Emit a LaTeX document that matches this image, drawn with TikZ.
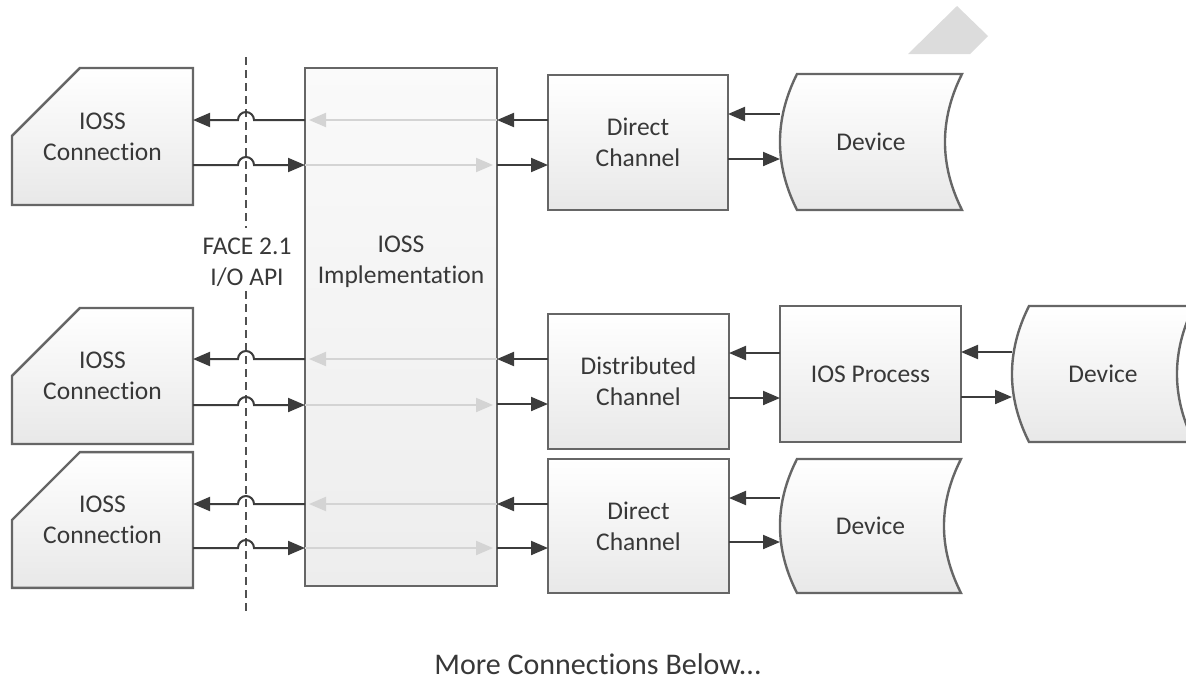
\documentclass[tikz,border=0pt]{standalone}
\usepackage{fontspec}
\setmainfont{Carlito}[Ligatures=NoCommon]
\usetikzlibrary{arrows.meta,shapes.misc}

\definecolor{ink}{HTML}{383838}
\definecolor{edge}{HTML}{666666}
\definecolor{wire}{HTML}{3C3C3C}
\definecolor{ghost}{HTML}{D4D4D4}
\definecolor{shadebot}{HTML}{E8E8E8}
\definecolor{tabgray}{HTML}{DCDCDC}

\tikzset{
  boxstyle/.style={draw=edge, line width=2.4pt, top color=white, bottom color=shadebot,
    text=ink, font=\fontsize{25.5}{31}\selectfont, align=center, inner sep=0pt, outer sep=0pt},
  plainbox/.style={boxstyle, rectangle},
  connbox/.style={boxstyle, chamfered rectangle, chamfered rectangle corners=north west,
    chamfered rectangle xsep=45pt, chamfered rectangle ysep=44pt},
  implbox/.style={boxstyle, rectangle, top color=white!98!black, bottom color=white!93!black},
  devtext/.style={rectangle, draw=none, text=ink, font=\fontsize{25.5}{31}\selectfont,
    align=center, inner sep=0pt, outer sep=0pt},
  label/.style={text=ink, font=\fontsize{25.5}{31}\selectfont, align=center, inner sep=0pt},
  arr/.style={draw=wire, line width=2pt, -{Triangle[length=17pt,width=14pt]}},
  ghostarr/.style={draw=ghost, line width=2pt, -{Triangle[length=17pt,width=14pt]}},
  dashline/.style={draw=wire!90, line width=2pt, dash pattern=on 8pt off 5pt},
}

% device outline: bulging left side, hollow right side
% #1 name, #2 left extreme x, #3 top y, #4 right corner x, #5 bottom y, #6 text
\newcommand\devicebox[6]{%
  \path[boxstyle]
    (#2+17,#3) -- (#4,#3)
    .. controls ({#4-22.7},{#3+(#5-#3)/3}) and ({#4-22.7},{#5-(#5-#3)/3}) .. (#4,#5)
    -- (#2+17,#5)
    .. controls ({#2-5.7},{#5-(#5-#3)/3}) and ({#2-5.7},{#3+(#5-#3)/3}) .. (#2+17,#3)
    -- cycle;
  \node[devtext, minimum width={#4-#2}, minimum height={#5-#3}] (#1)
    at ({(#2+#4)/2},{(#3+#5)/2}) {#6};%
}

\begin{document}
\begin{tikzpicture}[x=1pt, y=-1pt]
\useasboundingbox (0,0) rectangle (1186,681);

% corner tab
\fill[tabgray] (908,54) -- (957,6) -- (988,36) -- (970,54) -- cycle;

% API boundary
\coordinate (dtop) at (246,57);
\coordinate (dgapA) at (246,228);
\coordinate (dgapB) at (246,291);
\coordinate (dbot) at (246,611);
\draw[dashline] (dtop) -- (dgapA);
\draw[dashline] (dgapB) -- (dbot);
\node[label] (api) at (247,262) {FACE 2.1\\I/O API};

% IOSS connections
\node[connbox, minimum width=181, minimum height=137] (conn1) at (102.5,136.5) {IOSS\\Connection};
\node[connbox, minimum width=181, minimum height=136] (conn2) at (102.5,376) {IOSS\\Connection};
\node[connbox, minimum width=181, minimum height=134] (conn3) at (102.5,520) {IOSS\\Connection};

% IOSS implementation
\node[implbox, minimum width=192, minimum height=518] (impl) at (401,327) {};
\node[label] (impltext) at (401,262) {IOSS\\Implementation};

% channels and process
\node[plainbox, minimum width=180, minimum height=135] (dc1) at (638,142.5) {Direct\\Channel};
\node[plainbox, minimum width=181, minimum height=135] (dist) at (638.5,381.5) {Distributed\\Channel};
\node[plainbox, minimum width=181, minimum height=136] (iosp) at (870.5,374) {IOS Process};
\node[plainbox, minimum width=181, minimum height=134] (dc2) at (638.5,526) {Direct\\Channel};

% devices
\devicebox{dev1}{780}{74}{962}{210}{Device}
\devicebox{dev2}{1012}{306}{1194}{442}{Device}
\devicebox{dev3}{780}{459}{961}{593}{Device}

% connection <-> implementation, hopping over the API line
\foreach \c/\up/\dn in {conn1/120/165, conn2/359/405, conn3/504/548}{
  \draw[arr] (impl.west |- 0,\up) -- (254,\up) arc[start angle=0, end angle=180, radius=8pt] -- (\c.east |- 0,\up);
  \draw[arr] (\c.east |- 0,\dn) -- (238,\dn) arc[start angle=180, end angle=0, radius=8pt] -- (impl.west |- 0,\dn);
}

% pass-through inside the implementation
\foreach \up/\dn in {120/165, 359/405, 504/548}{
  \draw[ghostarr, shorten >=4pt] (impl.east |- 0,\up) -- (impl.west |- 0,\up);
  \draw[ghostarr, shorten >=4pt] (impl.west |- 0,\dn) -- (impl.east |- 0,\dn);
}

% channels <-> implementation
\draw[arr] (dc1.west |- 0,120) -- (impl.east |- 0,120);
\draw[arr] (impl.east |- 0,165) -- (dc1.west |- 0,165);
\draw[arr] (dist.west |- 0,359) -- (impl.east |- 0,359);
\draw[arr] (impl.east |- 0,404) -- (dist.west |- 0,404);
\draw[arr] (dc2.west |- 0,504) -- (impl.east |- 0,504);
\draw[arr] (impl.east |- 0,548) -- (dc2.west |- 0,548);

% devices and process
\draw[arr] (dev1.west |- 0,114) -- (dc1.east |- 0,114);
\draw[arr] (dc1.east |- 0,159) -- (dev1.west |- 0,159);
\draw[arr] (iosp.west |- 0,353) -- (dist.east |- 0,353);
\draw[arr] (dist.east |- 0,398) -- (iosp.west |- 0,398);
\draw[arr] (dev2.west |- 0,352) -- (iosp.east |- 0,352);
\draw[arr] (iosp.east |- 0,397) -- (dev2.west |- 0,397);
\draw[arr] (dev3.west |- 0,498) -- (dc2.east |- 0,498);
\draw[arr] (dc2.east |- 0,542) -- (dev3.west |- 0,542);

\node[text=ink, font=\fontsize{30}{36}\selectfont, anchor=base, inner sep=0pt] (more) at (598,674) {More Connections Below...};
\end{tikzpicture}
\end{document}
